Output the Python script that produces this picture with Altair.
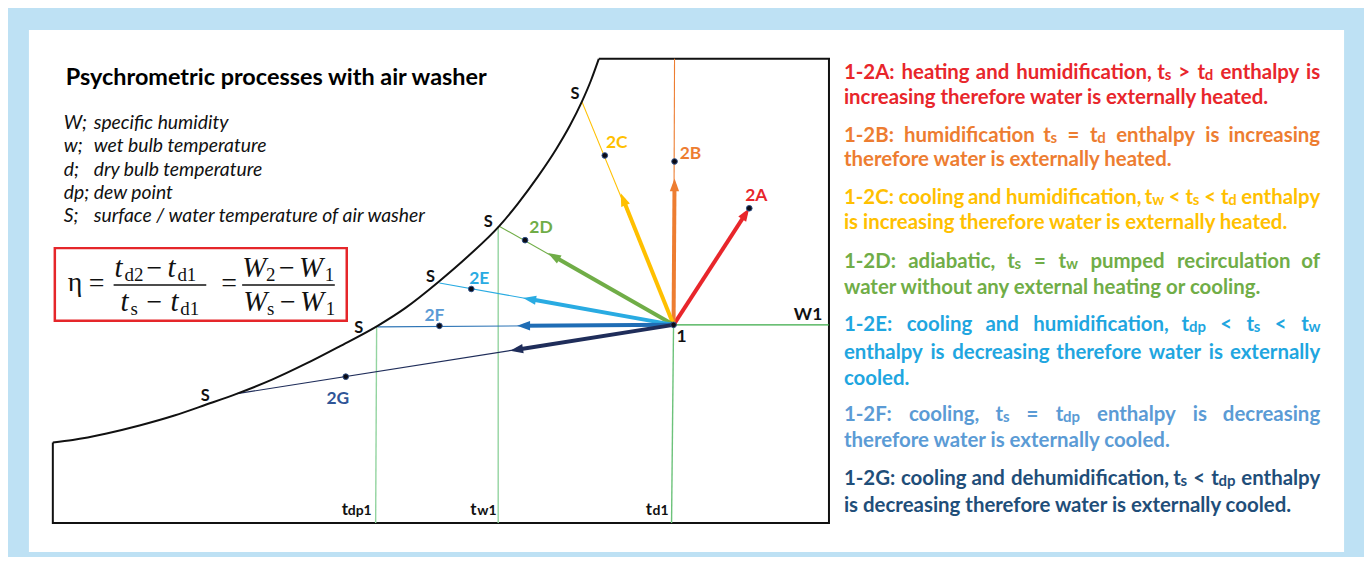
import math
import altair as alt
import pandas as pd

# ---------------- chart frame ----------------
W, H = 1361, 549          # chart size (page margin 8px)
BLUE = "#BEE1F4"

# ---------------- diagram values (picture pixel space) ----------------
P1 = (676, 325)
proc = ["2A", "2B", "2C", "2D", "2E", "2F", "2G"]
tip_x = [752, 677, 623, 550, 525, 519, 512]
tip_y = [208, 178, 193, 253, 298, 326, 351]
end_x = [752, 677, 584, 501, 441, 379, 238]
end_y = [208, 58, 101, 226, 283, 327, 394]
state_x = [752, 677, 607, 527, 473, 441, 347]
state_y = [208, 161, 155, 240, 289, 326, 377]
thick_col = ["#E8262B", "#ED7D31", "#FFC000", "#70AD47", "#29ABE2", "#1F6DB5", "#1F2D5A"]
thin_col = ["#E8262B", "#ED7D31", "#FFC000", "#70AD47", "#29ABE2", "#2E75B6", "#1F2D5A"]
label_col = ["#E8262B", "#ED7D31", "#FFC000", "#70AD47", "#29ABE2", "#5B9BD5", "#2F5597"]
label_x = [759, 693, 619, 543, 481, 436, 339]
label_y = [196, 154, 143, 228, 279, 316, 399]
s_label_x = [577, 490, 432, 360, 206]
s_label_y = [93, 222, 277, 328, 396]

curve_x = [53, 73, 107, 140, 175, 207, 238, 273, 307, 340, 379, 407, 440, 470, 501, 520, 540, 558, 572, 584, 593, 601]
curve_y = [443, 440.5, 434, 426, 416, 405, 394, 380, 364, 347, 326, 308, 282, 256, 226, 203, 176, 149, 125, 101, 80, 58]
box_x = [601, 832, 832, 53, 53]
box_y = [58, 58, 524, 524, 443]

# reference lines: (name, x_start, y_start, x_end, y_end, colour)
ref_lines = [
    ("W1", 676, 325, 832, 325, "#3AAA47"),
    ("td1", 676, 325, 674, 524, "#6CC27A"),
    ("tw1", 500, 226, 500, 524, "#93D4A0"),
    ("tdp1", 378, 327, 377, 524, "#93D4A0"),
]

title = "Psychrometric processes with air washer"
legend_keys = ["W;", "w;", "d;", "dp;", "S;"]
legend_desc = ["specific humidity", "wet bulb temperature", "dry bulb temperature",
               "dew point", "surface / water temperature of air washer"]

para_col = {"A": "#E8262B", "B": "#ED7D31", "C": "#FFC000", "D": "#70AD47",
            "E": "#1FA6E0", "F": "#5B9BD5", "G": "#1F4E79"}
para_lines = [
    ("A", "1-2A: heating and humidification, ts > td enthalpy is", True),
    ("A", "increasing therefore water is externally heated.", False),
    ("B", "1-2B: humidification ts = td enthalpy is increasing", True),
    ("B", "therefore water is externally heated.", False),
    ("C", "1-2C: cooling and humidification, tw < ts < td enthalpy", True),
    ("C", "is increasing therefore water is externally heated.", False),
    ("D", "1-2D: adiabatic, ts = tw pumped recirculation of", True),
    ("D", "water without any external heating or cooling.", False),
    ("E", "1-2E: cooling and humidification, tdp < ts < tw", True),
    ("E", "enthalpy is decreasing therefore water is externally", True),
    ("E", "cooled.", False),
    ("F", "1-2F: cooling, ts = tdp enthalpy is decreasing", True),
    ("F", "therefore water is externally cooled.", False),
    ("G", "1-2G: cooling and dehumidification, ts < tdp enthalpy", True),
    ("G", "is decreasing therefore water is externally cooled.", False),
]
para_y = [72, 97, 135, 160, 198, 223, 262, 288, 325, 353, 379, 416, 442, 480, 507]
SUBWORDS = {"ts": "s", "td": "d", "tw": "w", "tdp": "dp"}

# ---------------- scales ----------------
XS = alt.Scale(domain=[8, 8 + W], nice=False, zero=False)
YS = alt.Scale(domain=[8, 8 + H], nice=False, zero=False, reverse=True)


def X(f="x"):
    return alt.X(f"{f}:Q", scale=XS, axis=None)


def Y(f="y"):
    return alt.Y(f"{f}:Q", scale=YS, axis=None)


def texts(rows, font="Lato", weight="normal", style="normal", align="left", baseline="middle"):
    df = pd.DataFrame(rows, columns=["t", "x", "y", "s", "c"])
    return alt.Chart(df).mark_text(font=font, fontWeight=weight, fontStyle=style,
                                   align=align, baseline=baseline).encode(
        x=X(), y=Y(), text="t:N", size=alt.Size("s:Q", scale=None),
        color=alt.Color("c:N", scale=None))


# ---------------- line segments ----------------
seg_rows = []


def add_seg(name, xs, ys, color, width):
    for i, (a, b) in enumerate(zip(xs, ys)):
        seg_rows.append({"seg": name, "o": i, "x": a, "y": b, "c": color, "w": width})


add_seg("box", box_x, box_y, "#111111", 2)
for name, xa, ya, xb, yb, col in ref_lines:
    add_seg(name, [xa, xb], [ya, yb], col, 1.4)
for i, p in enumerate(proc):
    if p != "2A":
        add_seg("thin" + p, [P1[0], end_x[i]], [P1[1], end_y[i]], thin_col[i], 1.1)

head_rows = []
ARROW_LEN = 13
for i, p in enumerate(proc):
    dx, dy = tip_x[i] - P1[0], tip_y[i] - P1[1]
    L = math.hypot(dx, dy)
    ux, uy = dx / L, dy / L
    cx, cy = tip_x[i] - ux * ARROW_LEN / 2, tip_y[i] - uy * ARROW_LEN / 2
    add_seg("thick" + p, [P1[0], cx], [P1[1], cy], thick_col[i], 4)
    ang = math.degrees(math.atan2(dx, -dy)) % 360
    head_rows.append({"x": cx, "y": cy, "a": ang, "c": thick_col[i]})

# fraction bars
add_seg("bar1", [114, 207], [285, 285], "#111111", 1.3)
add_seg("bar2", [243, 336], [285, 285], "#111111", 1.3)

seg_df = pd.DataFrame(seg_rows)
lines = alt.Chart(seg_df).mark_line(strokeCap="butt").encode(
    x=X(), y=Y(), detail="seg:N", order="o:Q",
    color=alt.Color("c:N", scale=None), strokeWidth=alt.StrokeWidth("w:Q", scale=None))

curve = alt.Chart(pd.DataFrame({"x": curve_x, "y": curve_y})).mark_line(
    interpolate="monotone", color="#111111", strokeWidth=2).encode(x=X(), y=Y(), order="x:Q")

heads = alt.Chart(pd.DataFrame(head_rows)).mark_point(
    shape="M0,-1L0.72,1L-0.72,1Z", filled=True, opacity=1, size=ARROW_LEN ** 2).encode(
    x=X(), y=Y(), angle=alt.Angle("a:Q", scale=None), color=alt.Color("c:N", scale=None))

dots_df = pd.DataFrame({"x": state_x + [P1[0]], "y": state_y + [P1[1]]})
dots = alt.Chart(dots_df).mark_point(filled=True, size=32, color="#0B0B14", opacity=1,
                                     stroke="#2F4F86", strokeWidth=1).encode(x=X(), y=Y())

# ---------------- rectangles ----------------
white = alt.Chart(pd.DataFrame({"x": [29], "x2": [1349], "y": [29], "y2": [553]})).mark_rect(
    color="white").encode(x=X(), x2="x2:Q", y=Y(), y2="y2:Q")
redbox = alt.Chart(pd.DataFrame({"x": [55], "x2": [348], "y": [248], "y2": [321]})).mark_rect(
    filled=False, stroke="#E5262A", strokeWidth=2.5).encode(x=X(), x2="x2:Q", y=Y(), y2="y2:Q")

# ---------------- texts ----------------
layers_text = []
layers_text.append(texts([(title, 66, 77, 23.5, "#000000")], weight="bold"))
leg_y = [122, 146, 170, 193, 216]
layers_text.append(texts([(k, 64, y, 19.4, "#111111") for k, y in zip(legend_keys, leg_y)], style="italic"))
layers_text.append(texts([(d, 94, y, 19.4, "#111111") for d, y in zip(legend_desc, leg_y)], style="italic"))

# process labels
layers_text.append(texts([(p, label_x[i], label_y[i], 17.5, label_col[i]) for i, p in enumerate(proc)],
                         weight="bold", align="center"))
layers_text.append(texts([("S", a, b, 16.5, "#111111") for a, b in zip(s_label_x, s_label_y)],
                         weight="bold", align="center"))
layers_text.append(texts([("W1", 811, 315, 17.5, "#111111"), ("1", 684, 337, 17.5, "#111111")],
                         weight="bold", align="center"))
# bottom temperature labels
layers_text.append(texts([("t", 343, 516, 17, "#111111"), ("t", 472, 516, 17, "#111111"),
                          ("t", 648, 516, 17, "#111111")], weight="bold", baseline="alphabetic"))
layers_text.append(texts([("dp1", 349, 516, 14, "#111111"), ("w1", 479, 516, 14, "#111111"),
                          ("d1", 655, 516, 14, "#111111")], weight="bold", baseline="alphabetic"))

# formula
SERIF = "Liberation Serif"
f_it = [("t", 115, 277), ("t", 168, 277), ("t", 121, 311), ("t", 171, 311),
        ("W", 243, 277), ("W", 300, 277), ("W", 244, 311), ("W", 301, 311)]
f_sub = [("d2", 125, 281), ("d1", 178, 281), ("s", 131, 315), ("d1", 181, 315),
         ("2", 267, 281), ("1", 326, 281), ("s", 268, 315), ("1", 327, 315)]
f_up = [("η", 68, 291), ("=", 89, 292), ("=", 222, 292),
        ("−", 147, 277), ("−", 147, 311), ("−", 280, 277), ("−", 281, 311)]
layers_text.append(texts([(t, a, b, 29, "#111111") for t, a, b in f_it], font=SERIF, style="italic", baseline="alphabetic"))
layers_text.append(texts([(t, a, b, 19, "#111111") for t, a, b in f_sub], font=SERIF, baseline="alphabetic"))
layers_text.append(texts([(t, a, b, 28, "#111111") for t, a, b in f_up], font=SERIF, baseline="alphabetic"))

# right-hand paragraphs (justified by word placement)
CW = dict(a=.51, b=.56, c=.46, d=.56, e=.53, f=.33, g=.51, h=.56, i=.25, j=.25, k=.52, l=.25,
          m=.84, n=.56, o=.56, p=.56, q=.56, r=.37, s=.43, t=.36, u=.56, v=.52, w=.78, x=.51,
          y=.52, z=.46)
CW.update({"1": .58, "2": .58, "A": .68, "B": .64, "C": .65, "D": .73, "E": .57, "F": .55,
           "G": .70, ":": .27, ",": .25, ".": .25, "-": .36, "<": .58, ">": .58, "=": .58, " ": .2})
PSIZE = 20.5
SSIZE = 15
XL, XR = 847, 1325


def wwidth(s, size=PSIZE):
    return sum(CW.get(ch, .55) for ch in s) * size


def token_width(w):
    if w in SUBWORDS:
        return wwidth("t") + wwidth(SUBWORDS[w], SSIZE)
    return wwidth(w)


main_rows, sub_rows, right_rows = [], [], []
for (k, txt, just), yc in zip(para_lines, para_y):
    col = para_col[k]
    yb = yc + 6
    if not just:
        main_rows.append((txt, XL, yb, PSIZE, col))
        continue
    words = txt.split(" ")
    total = sum(token_width(w) for w in words)
    gap = (XR - XL - total) / (len(words) - 1)
    xcur = XL
    for j, w in enumerate(words):
        if j == len(words) - 1:
            xcur = XR - token_width(w)
        if w in SUBWORDS:
            main_rows.append(("t", xcur, yb, PSIZE, col))
            sub_rows.append((SUBWORDS[w], xcur + wwidth("t"), yb + 1, SSIZE, col))
        elif j == len(words) - 1:
            right_rows.append((w, XR, yb, PSIZE, col))
        else:
            main_rows.append((w, xcur, yb, PSIZE, col))
        xcur += token_width(w) + gap
layers_text.append(texts(main_rows, weight="bold", baseline="alphabetic"))
layers_text.append(texts(sub_rows, weight="bold", baseline="alphabetic"))
layers_text.append(texts(right_rows, weight="bold", align="right", baseline="alphabetic"))

chart = alt.layer(white, redbox, lines, curve, heads, dots, *layers_text).properties(
    width=W, height=H, background=BLUE, padding=0,
    autosize=alt.AutoSizeParams(type="none")
).configure_view(strokeWidth=0)

chart.save("out.html", embed_options={"renderer": "svg", "actions": False})
